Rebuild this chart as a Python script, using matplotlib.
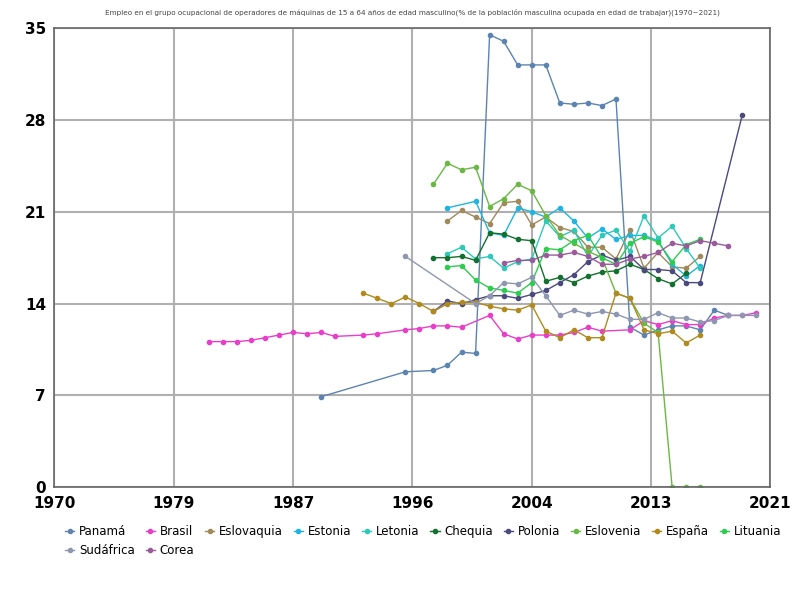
import matplotlib
matplotlib.use("Agg")
import matplotlib.pyplot as plt

panama_x = [1989,1995,1997,1998,1999,2000,2001,2002,2003,2004,2005,2006,2007,2008,2009,2010,2011,2012,2013,2014,2015,2016,2017,2018]
panama_y = [6.9,8.8,8.9,9.3,10.3,10.2,34.5,34.0,32.2,32.2,32.2,29.3,29.2,29.3,29.1,29.6,12.2,11.6,12.0,12.3,12.3,12.0,13.5,13.1]
brasil_x = [1981,1982,1983,1984,1985,1986,1987,1988,1989,1990,1992,1993,1995,1996,1997,1998,1999,2001,2002,2003,2004,2005,2006,2007,2008,2009,2011,2012,2013,2014,2015,2016,2017,2018,2019,2020]
brasil_y = [11.1,11.1,11.1,11.2,11.4,11.6,11.8,11.7,11.8,11.5,11.6,11.7,12.0,12.1,12.3,12.3,12.2,13.1,11.7,11.3,11.6,11.6,11.6,11.8,12.2,11.9,12.0,12.7,12.4,12.7,12.4,12.4,12.9,13.1,13.1,13.3]
eslovaquia_x = list(range(1998,2017))
eslovaquia_y = [20.3,21.1,20.6,20.1,21.7,21.8,20.0,20.6,19.8,19.5,18.3,18.3,17.4,19.6,16.7,17.9,16.8,16.7,17.6]
estonia_x = [1998,2000,2001,2002,2003,2004,2005,2006,2007,2008,2009,2010,2011,2012,2013,2014,2015,2016]
estonia_y = [21.3,21.8,19.4,19.2,21.3,21.0,20.6,21.3,20.3,19.0,19.7,18.9,19.2,19.2,18.8,17.0,16.1,16.9]
letonia_x = list(range(1998,2017))
letonia_y = [17.8,18.3,17.4,17.6,16.7,17.2,17.4,20.3,19.1,19.6,17.6,19.2,19.6,18.0,20.7,19.0,19.9,18.2,16.7]
chequia_x = list(range(1997,2016))
chequia_y = [17.5,17.5,17.6,17.3,19.4,19.3,18.9,18.8,15.7,16.0,15.6,16.1,16.4,16.5,17.0,16.6,15.9,15.5,16.3]
polonia_x = list(range(1997,2017)) + [2019]
polonia_y = [13.4,14.2,14.0,14.3,14.6,14.6,14.4,14.7,15.0,15.6,16.2,17.2,17.7,17.3,17.6,16.6,16.6,16.5,15.6,15.6,28.4]
eslovenia_x = list(range(1997,2017))
eslovenia_y = [23.1,24.7,24.2,24.4,21.4,22.0,23.1,22.6,20.7,19.2,18.6,18.0,17.5,14.8,14.4,12.5,11.8,0.0,0.0,0.0]
espana_x = list(range(1992,2017))
espana_y = [14.8,14.4,14.0,14.5,14.0,13.4,14.0,14.1,14.1,13.8,13.6,13.5,13.9,11.9,11.4,12.0,11.4,11.4,14.8,14.4,12.0,11.7,11.9,11.0,11.6]
lituania_x = list(range(1998,2017))
lituania_y = [16.8,16.9,15.8,15.2,15.0,14.8,15.6,18.2,18.1,18.8,19.2,17.5,17.0,18.6,19.1,18.7,17.2,18.5,18.9]
sudafrica_x = [1995,2000,2001,2002,2003,2004,2005,2006,2007,2008,2009,2010,2011,2012,2013,2014,2015,2016,2017,2018,2019,2020]
sudafrica_y = [17.6,14.0,14.6,15.6,15.5,16.0,14.6,13.1,13.5,13.2,13.4,13.2,12.8,12.8,13.3,12.9,12.9,12.6,12.7,13.1,13.1,13.1]
corea_x = list(range(2002,2019))
corea_y = [17.1,17.3,17.3,17.7,17.7,17.9,17.6,17.0,17.0,17.4,17.6,17.9,18.6,18.4,18.8,18.6,18.4]

series = [
    ("Panamá", panama_x, panama_y, "#5b84b1"),
    ("Brasil", brasil_x, brasil_y, "#e83fc9"),
    ("Eslovaquia", eslovaquia_x, eslovaquia_y, "#a0895a"),
    ("Estonia", estonia_x, estonia_y, "#1fb5e0"),
    ("Letonia", letonia_x, letonia_y, "#2ec9b8"),
    ("Chequia", chequia_x, chequia_y, "#13702f"),
    ("Polonia", polonia_x, polonia_y, "#4b4a7e"),
    ("Eslovenia", eslovenia_x, eslovenia_y, "#6ab843"),
    ("España", espana_x, espana_y, "#b08a1e"),
    ("Lituania", lituania_x, lituania_y, "#2ecc50"),
    ("Sudáfrica", sudafrica_x, sudafrica_y, "#8e97b0"),
    ("Corea", corea_x, corea_y, "#9b5a9b"),
]
xtick_labels = ["1970","1979","1987","1996","2004","2013","2021"]
yticks = [0,7,14,21,28,35]

fig = plt.figure(figsize=(8,6), dpi=100)
ax = fig.add_axes([0.068, 0.188, 0.895, 0.765])
for name, x, y, c in series:
    ax.plot(x, y, color=c, lw=1, marker="o", ms=3, label=name)
ax.set_xlim(1970, 2021)
ax.set_ylim(0, 35)
n = len(xtick_labels) - 1
ax.set_xticks([1970 + (2021 - 1970) * i / n for i in range(n + 1)])
ax.set_xticklabels(xtick_labels)
ax.set_yticks(yticks)
ax.tick_params(labelsize=11, length=0, pad=6)
for t in ax.get_xticklabels() + ax.get_yticklabels():
    t.set_fontweight("bold")
ax.grid(True, color="#b0b0b0", lw=1.5)
for s in ax.spines.values():
    s.set_color("#666666"); s.set_linewidth(1.2)
fig.text(0.515, 0.985, "Empleo en el grupo ocupacional de operadores de máquinas de 15 a 64 años de edad masculino(% de la población masculina ocupada en edad de trabajar)(1970~2021)",
         ha="center", va="top", fontsize=5.2, color="#444444")
h, l = ax.get_legend_handles_labels()
order = [0, 10, 1, 11] + list(range(2, 10))
ax.legend([h[i] for i in order], [l[i] for i in order], loc="upper left",
          bbox_to_anchor=(0.0, -0.06), ncol=10, frameon=False,
          fontsize=8.5, handlelength=0.8, handletextpad=0.4, columnspacing=0.9)
fig.savefig("out.png")
